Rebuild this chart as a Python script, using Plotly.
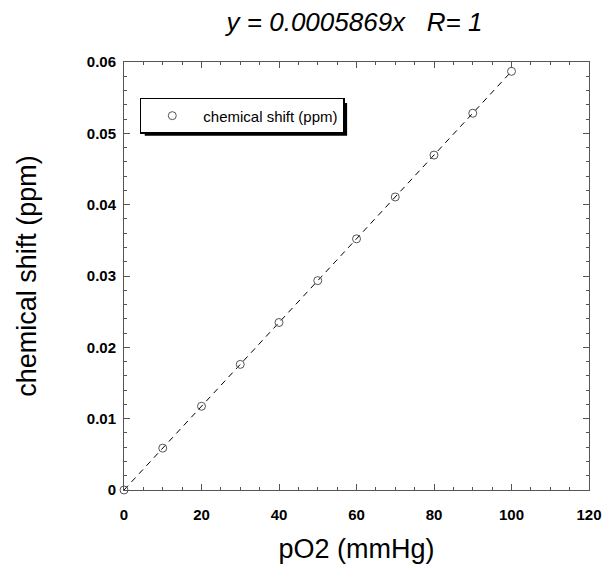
import plotly.graph_objects as go

po2 = [0, 10, 20, 30, 40, 50, 60, 70, 80, 90, 100]
shift = [0.0, 0.00587, 0.01174, 0.01761, 0.02348, 0.02935, 0.03521, 0.04108, 0.04695, 0.05282, 0.05869]
fit_x = [0, 100]
fit_y = [0.0, 0.05869]
x_ticks = [0, 20, 40, 60, 80, 100, 120]
y_ticks = [0, 0.01, 0.02, 0.03, 0.04, 0.05, 0.06]
y_tick_labels = ["0", "0.01", "0.02", "0.03", "0.04", "0.05", "0.06"]

FONT = "Liberation Sans, Arial, sans-serif"

fig = go.Figure()
fig.add_trace(go.Scatter(x=fit_x, y=fit_y, mode="lines", showlegend=False,
                         line=dict(color="black", width=1, dash="6px,5px")))
fig.add_trace(go.Scatter(x=po2, y=shift, mode="markers", name="chemical shift (ppm)",
                         cliponaxis=False,
                         marker=dict(symbol="circle-open", size=8, color="#555555",
                                     line=dict(width=1))))

W, H = 614, 571
L, R, T, B = 124, 19, 62, 80
pw, ph = W - L - R, H - T - B
def px(xp):
    return (xp - L) / pw
def py(yp):
    return 1 - (yp - T) / ph

# legend shadow
fig.add_shape(type="rect", xref="paper", yref="paper",
              x0=px(145), x1=px(350), y0=py(136), y1=py(103),
              fillcolor="black", line=dict(width=0), layer="above")

axis_common = dict(showgrid=False, zeroline=False, showline=True, linecolor="#555555",
                   linewidth=1, mirror="allticks", ticks="inside", ticklen=6,
                   tickcolor="#555555",
                   tickfont=dict(family=FONT, size=15, color="black", weight="bold"))

fig.update_layout(
    width=W, height=H,
    margin=dict(l=L, r=R, t=T, b=B),
    paper_bgcolor="white", plot_bgcolor="white",
    title=dict(text="y = 0.0005869x\u00a0\u00a0\u00a0R= 1", x=354.5 / W, xanchor="center",
               xref="container", y=1 - 22 / H, yanchor="middle",
               font=dict(family=FONT, size=26, color="black", style="italic")),
    xaxis=dict(range=[0, 120], tickvals=x_ticks, ticktext=[str(v) for v in x_ticks],
               ticklabelstandoff=11,
               title=dict(text="pO2 (mmHg)", standoff=17,
                          font=dict(family=FONT, size=27, color="black")),
               minor=dict(ticks="inside", ticklen=3, dtick=5, tickcolor="#555555"),
               **axis_common),
    yaxis=dict(range=[0, 0.06], tickvals=y_ticks, ticktext=y_tick_labels,
               ticklabelstandoff=4,
               title=dict(text="chemical shift (ppm)", standoff=42,
                          font=dict(family=FONT, size=27, color="black")),
               minor=dict(ticks="inside", ticklen=3, dtick=0.002, tickcolor="#555555"),
               **axis_common),
    legend=dict(x=px(140), y=py(98), xanchor="left", yanchor="top",
                bgcolor="white", bordercolor="black", borderwidth=1.5,
                font=dict(family=FONT, size=15, color="black"),
                itemwidth=52),
)

fig.write_html("out.html")
